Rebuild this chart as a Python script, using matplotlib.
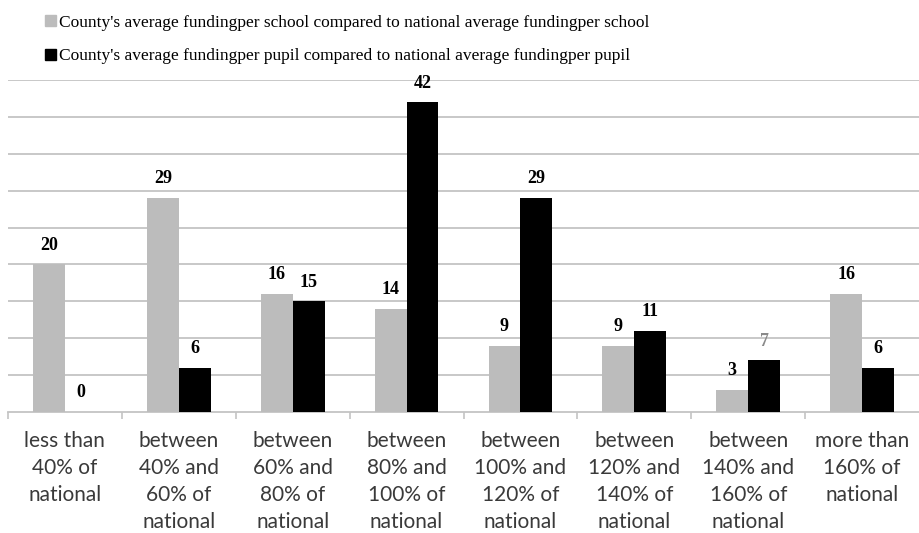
import numpy as np
import matplotlib.pyplot as plt
from matplotlib.patches import Patch

categories = [
    "less than\n40% of\nnational",
    "between\n40% and\n60% of\nnational",
    "between\n60% and\n80% of\nnational",
    "between\n80% and\n100% of\nnational",
    "between\n100% and\n120% of\nnational",
    "between\n120% and\n140% of\nnational",
    "between\n140% and\n160% of\nnational",
    "more than\n160% of\nnational",
]
per_school = [20, 29, 16, 14, 9, 9, 3, 16]
per_pupil = [0, 6, 15, 42, 29, 11, 7, 6]
series_names = [
    "County's average fundingper school compared to national average fundingper school",
    "County's average fundingper pupil compared to national average fundingper pupil",
]

gray = "#bcbcbc"
grid_col = "#c4c4c4"

fig = plt.figure(figsize=(9.19, 5.33), dpi=100)
ax = fig.add_axes([8 / 919, 121 / 533, 911 / 919, 332 / 533])

x = np.arange(len(categories))
w = 0.28
ax.bar(x - w / 2, per_school, w, color=gray, zorder=3)
ax.bar(x + w / 2, per_pupil, w, color="black", zorder=3)

label_kw = dict(textcoords="offset points", ha="center", va="baseline",
                fontsize=13, fontweight="bold", family="Liberation Serif")
for xi, v in zip(x, per_school):
    ax.annotate(str(v), (xi - w / 2, v), xytext=(0, 10.5), **label_kw)
for xi, v in zip(x, per_pupil):
    col = "#8a8a8a" if v == 7 else "black"
    ax.annotate(str(v), (xi + w / 2, v), xytext=(0, 10.5), color=col, **label_kw)

ax.set_xlim(-0.5, len(categories) - 0.5)
ax.set_ylim(0, 45)
ax.set_yticks(np.arange(5, 46, 5))
ax.yaxis.grid(True, color=grid_col, lw=1.3, zorder=0)
ax.tick_params(axis="y", length=0, labelleft=False)

ax.set_xticks(x)
ax.set_xticklabels(categories, family="Lato", fontsize=15, color="#3a3a3a",
                   linespacing=1.42)
ax.set_xticks(np.arange(-0.5, len(categories) - 0.5, 1), minor=True)
ax.tick_params(axis="x", which="major", length=0, pad=14)
ax.tick_params(axis="x", which="minor", length=5, color=grid_col, width=1.2)

for s in ["top", "right", "left"]:
    ax.spines[s].set_visible(False)
ax.spines["bottom"].set_color(grid_col)
ax.spines["bottom"].set_linewidth(1.3)

handles = [Patch(color=gray), Patch(color="black")]
fig.legend(handles, series_names, loc="upper left",
           bbox_to_anchor=(33 / 919, 0.995), frameon=False,
           prop={"family": "Liberation Serif", "size": 12.5},
           handlelength=0.6, handleheight=0.6, handletextpad=0.2,
           labelspacing=1.0, borderaxespad=0.3)

fig.savefig("out.png", dpi=100)
